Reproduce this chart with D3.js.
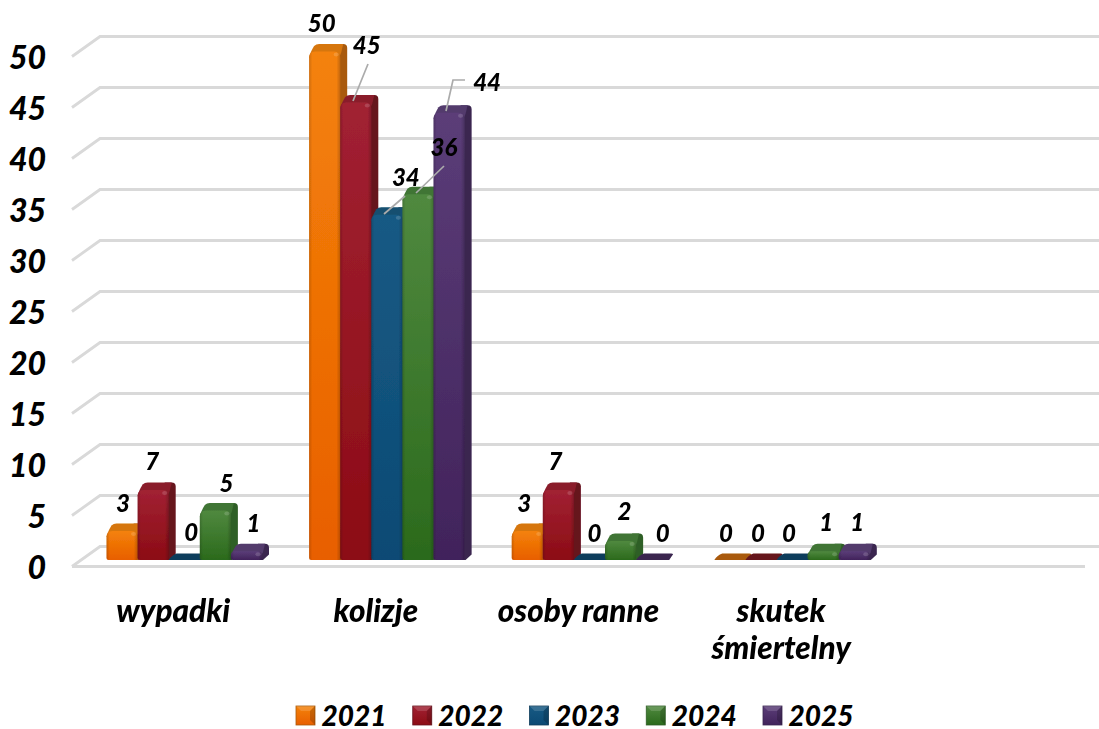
<!DOCTYPE html>
<html><head><meta charset="utf-8">
<script src="https://cdn.jsdelivr.net/npm/d3@7/dist/d3.min.js"></script>
<style>html,body{margin:0;background:#fff}svg{display:block}
text{font-family:Lato,Carlito,sans-serif;font-weight:900;font-style:italic;fill:#000}</style></head><body>
<svg id="c" width="1099" height="729"></svg>
<script>
const categories=["wypadki","kolizje","osoby ranne","skutek śmiertelny",""];
const years=["2021","2022","2023","2024","2025"];
const v2021=[3,50,3,0];
const v2022=[7,45,7,0];
const v2023=[0,34,0,0];
const v2024=[5,36,2,1];
const v2025=[1,44,0,1];
const seriesValues=[v2021,v2022,v2023,v2024,v2025];
const yTicks=[0,5,10,15,20,25,30,35,40,45,50];
const baseColors=[["#f4820a","#e85f00","#a95a0c","#d6760c"],["#a12133","#8c0c14","#66131d","#8a1f2c"],["#175a84","#0c4a74","#113d5b","#16506f"],["#50893f","#2b6a1c","#2f5e26","#3f7434"],["#5b3d78","#41235b","#3a2750","#523a6c"]];

const svg=d3.select("#c"),defs=svg.append("defs");
const yF=d3.scaleLinear().domain([0,50]).range([566.5,56.5]);
const DX=28,DY=-20;
const x=d3.scaleBand().domain(categories).range([72,1085]);
const inner=d3.scaleBand().domain(years).range([34.5,190]);
const yBar=d3.scaleLinear().domain([0,50]).range([561.5,51.5]);
const barBase=560;
const bd=7, bh=7.5, r=6;

const grid=svg.append("g").attr("filter","url(#soft2)");
const gridRight=1085, backRight=1099, x0Axis=x.range()[0];
yTicks.forEach(t=>{
  grid.append("path").attr("fill","none").attr("stroke","#d9d9d9").attr("stroke-width",2.8)
   .attr("d",`M${x0Axis},${yF(t)}L${x0Axis+DX},${yF(t)+DY}L${backRight},${yF(t)+DY}`+(t===0?`M${x0Axis},${yF(t)}L${gridRight},${yF(t)}`:""));
});
const axis=svg.append("g").attr("transform","translate(46,0)").call(d3.axisLeft(yF).tickValues(yTicks).tickSize(0).tickPadding(0));
axis.select(".domain").remove();
axis.selectAll("text").attr("font-size",32).attr("dy","0.36em").style("font-family","Lato").attr("fill","#000");

baseColors.forEach((c,i)=>{
  const g=defs.append("linearGradient").attr("id","f"+i).attr("x1",0).attr("x2",0).attr("y1",0).attr("y2",1);
  g.append("stop").attr("offset",0).attr("stop-color",c[0]);
  g.append("stop").attr("offset",1).attr("stop-color",c[1]);
});
const edge=defs.append("linearGradient").attr("id","edge").attr("x1",0).attr("x2",1).attr("y1",0).attr("y2",0);
[[0,.16],[.1,0],[.88,0],[1,.2]].forEach(s=>edge.append("stop").attr("offset",s[0]).attr("stop-color","#000").attr("stop-opacity",s[1]));
defs.append("filter").attr("id","soft").append("feGaussianBlur").attr("stdDeviation",0.6);
defs.append("filter").attr("id","soft2").append("feGaussianBlur").attr("stdDeviation",0.3);

const order=[];
categories.slice(0,4).forEach((cat,ci)=>years.forEach((yr,si)=>order.push({cat,ci,yr,si,val:seriesValues[si][ci]})));
const marks=svg.append("g").attr("filter","url(#soft)");
function barShape(m,g){
  const w=inner.bandwidth(), x0=x(m.cat)+inner(m.yr), c=baseColors[m.si], x1=x0+w, top=yBar(m.val);
  if(m.val===0){
    g.append("path").attr("fill",c[2]).attr("d",`M${x0},${barBase}Q${x0+3},${barBase-5} ${x0+bd+1},${barBase-bh+1}L${x1+bd-3},${barBase-bh+1}Q${x1+bd},${barBase-bh+1} ${x1+bd-2},${barBase-bh+3}L${x1+2},${barBase}Z`);
    return;
  }
  const rr=Math.min(r,(barBase-top)/2);
  g.append("path").attr("fill",c[2]).attr("d",`M${x1-3},${barBase}L${x1+1},${barBase}L${x1+bd},${barBase-bh+2}L${x1+bd},${top-bh+4}Q${x1+bd},${top-bh} ${x1+bd-4},${top-bh}L${x1-4},${top-bh}Z`);
  g.append("path").attr("fill",c[3]).attr("d",`M${x0},${top+rr}Q${x0+1},${top+1} ${x0+bd-2},${top-bh+2}Q${x0+bd},${top-bh} ${x0+bd+3},${top-bh}L${x1+bd-4},${top-bh}L${x1+1},${top+1}L${x1-1},${top+rr}Z`);
  const d=`M${x0+2},${barBase}Q${x0},${barBase} ${x0},${barBase-2}L${x0},${top+rr}Q${x0},${top} ${x0+rr},${top}L${x1-rr},${top}Q${x1},${top} ${x1},${top+rr}L${x1},${barBase-2}Q${x1},${barBase} ${x1-2},${barBase}Z`;
  g.append("path").attr("fill",`url(#f${m.si})`).attr("d",d);
  g.append("path").attr("fill","url(#edge)").attr("d",d);
  g.append("ellipse").attr("cx",x1-4).attr("cy",top+3).attr("rx",2.6).attr("ry",2).attr("fill","#fff").attr("opacity",.16);
}
order.forEach(m=>barShape(m,marks.append("g")));

const leaders=[
 [[368,64],[353,101]],
 [[405,196],[384,214]],
 [[444,166],[416,193]],
 [[465,80],[453,80],[446,111]]
];
leaders.forEach(l=>svg.append("path").attr("fill","none").attr("stroke","#ababab").attr("stroke-width",1.7).attr("d",d3.line()(l)));

// value label placement relative to the bar's centre and top
const labelDx=[[1,-1,7,11,7],[-3,11,19,26,38],[-3,-3,5,4,11],[-4,-3,-3,3,3]];
const labelDy=[[-26,-27,-28,-26,-26],[-27,-56,-36,-45,-29],[-26,-27,-27,-28,-27],[-27,-27,-27,-27,-27]];
order.forEach(m=>{
  const cx=x(m.cat)+inner(m.yr)+inner.bandwidth()/2, top=barBase-m.val*(yBar(0)-yBar(1));
  svg.append("text").attr("x",cx+labelDx[m.ci][m.si]).attr("y",top+labelDy[m.ci][m.si]).attr("dy","0.36em")
    .attr("text-anchor","middle").attr("font-size",24).text(m.val);
});

const catLabels=[["wypadki"],["kolizje"],["osoby ranne"],["skutek","śmiertelny"]];
catLabels.forEach((ls,i)=>ls.forEach((t,k)=>svg.append("text").attr("x",x(categories[i])+x.bandwidth()/2).attr("y",611+k*37).attr("dy","0.36em").attr("text-anchor","middle").attr("font-size",31.5).text(t)));

const legX=d3.scalePoint().domain(years).range([296,763]);
years.forEach((y,i)=>{
  const g=svg.append("g").attr("transform",`translate(${legX(y)},706)`);
  g.append("rect").attr("width",19).attr("height",19).attr("fill",`url(#f${i})`).attr("stroke",baseColors[i][2]).attr("stroke-width",.8);
  g.append("path").attr("d","M0,0L19,0L14,5L5,5Z").attr("fill","#fff").attr("opacity",.15);
  g.append("path").attr("d","M19,0L19,19L14,14L14,5Z").attr("fill","#000").attr("opacity",.18);
  svg.append("text").attr("x",legX(y)+25.5).attr("y",715.5).attr("dy","0.36em").attr("font-size",28).text(y);
});
</script></body></html>
